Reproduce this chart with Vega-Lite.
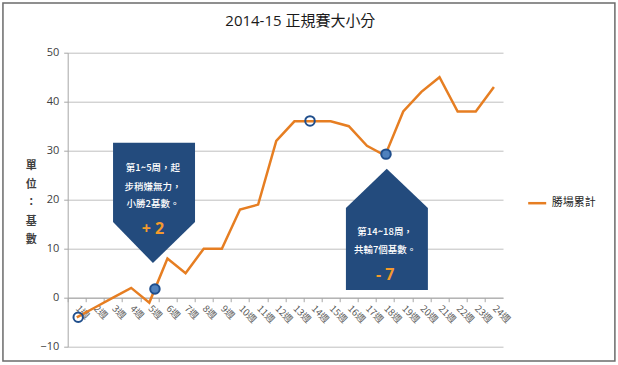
{
  "$schema": "https://vega.github.io/schema/vega-lite/v6.json",
  "width": 435.3,
  "height": 294,
  "autosize": "none",
  "padding": {"left": 67.7, "top": 52.7, "right": 114.7, "bottom": 18.3},
  "background": "white",
  "config": {
    "view": {"stroke": null},
    "font": "Noto Sans CJK TC",
    "axis": {"labelFont": "Open Sans", "titleFont": "Noto Sans CJK TC", "labelOverlap": false},
    "axisX": {"labelOverlap": false, "labelBound": false}
  },
  "title": {
    "text": "2014-15 正規賽大小分",
    "font": "Open Sans, Noto Sans CJK TC",
    "fontSize": 15,
    "fontWeight": "normal",
    "color": "#1a1a1a",
    "frame": "group",
    "anchor": "middle",
    "offset": -27,
    "dx": 15
  },
  "datasets": {
    "series": [
      {"week": 1, "wins": -4, "s": "勝場累計"},
      {"week": 2, "wins": -2, "s": "勝場累計"},
      {"week": 3, "wins": 0, "s": "勝場累計"},
      {"week": 4, "wins": 2, "s": "勝場累計"},
      {"week": 5, "wins": -1, "s": "勝場累計"},
      {"week": 6, "wins": 8, "s": "勝場累計"},
      {"week": 7, "wins": 5, "s": "勝場累計"},
      {"week": 8, "wins": 10, "s": "勝場累計"},
      {"week": 9, "wins": 10, "s": "勝場累計"},
      {"week": 10, "wins": 18, "s": "勝場累計"},
      {"week": 11, "wins": 19, "s": "勝場累計"},
      {"week": 12, "wins": 32, "s": "勝場累計"},
      {"week": 13, "wins": 36, "s": "勝場累計"},
      {"week": 14, "wins": 36, "s": "勝場累計"},
      {"week": 15, "wins": 36, "s": "勝場累計"},
      {"week": 16, "wins": 35, "s": "勝場累計"},
      {"week": 17, "wins": 31, "s": "勝場累計"},
      {"week": 18, "wins": 29, "s": "勝場累計"},
      {"week": 19, "wins": 38, "s": "勝場累計"},
      {"week": 20, "wins": 42, "s": "勝場累計"},
      {"week": 21, "wins": 45, "s": "勝場累計"},
      {"week": 22, "wins": 38, "s": "勝場累計"},
      {"week": 23, "wins": 38, "s": "勝場累計"},
      {"week": 24, "wins": 43, "s": "勝場累計"}
    ],
    "callouts": [
      {"g": "a", "x": 3.0, "top": 31.6, "bottom": 15.45},
      {"g": "a", "x": 5.2, "top": 31.6, "bottom": 7.08},
      {"g": "a", "x": 7.52, "top": 31.6, "bottom": 15.45},
      {"g": "b", "x": 15.84, "top": 18.3, "bottom": 1.57},
      {"g": "b", "x": 18.09, "top": 26.3, "bottom": 1.57},
      {"g": "b", "x": 20.36, "top": 18.3, "bottom": 1.57}
    ],
    "notes": [
      {"x": 5.2, "y": 26.5, "t": "第1~5周，起"},
      {"x": 5.2, "y": 22.6, "t": "步稍嫌無力，"},
      {"x": 5.2, "y": 19.1, "t": "小勝2基數。"},
      {"x": 18.0, "y": 13.4, "t": "第14~18周，"},
      {"x": 18.0, "y": 9.7, "t": "共輸7個基數。"}
    ],
    "scores": [
      {"x": 5.2, "y": 14.0, "t": "+ 2"},
      {"x": 18.0, "y": 4.6, "t": "- 7"}
    ],
    "marks": [
      {"x": 1.08, "y": -4.0, "f": "open"},
      {"x": 5.31, "y": 1.78, "f": "filled"},
      {"x": 13.86, "y": 36.08, "f": "open"},
      {"x": 18.05, "y": 29.3, "f": "filled"}
    ],
    "frame": [
      {"x": -3.07, "x2": 30.67, "y": 60.14, "y2": -12.92}
    ]
  },
  "layer": [
    {
      "data": {"name": "series"},
      "mark": {"type": "line", "strokeWidth": 2.5, "clip": false},
      "encoding": {
        "x": {
          "field": "week", "type": "quantitative",
          "scale": {"domain": [0.5, 24.5], "nice": false, "zero": false},
          "axis": {
            "values": [1,2,3,4,5,6,7,8,9,10,11,12,13,14,15,16,17,18,19,20,21,22,23,24],
            "tickCount": 50,
            "labelExpr": "datum.value + '週'",
            "labelOverlap": false,
            "labelBound": false,
            "title": null,
            "offset": -49,
            "grid": false,
            "domainColor": "#a6a6a6",
            "tickColor": "#a6a6a6",
            "tickSize": 4,
            "tickOffset": -9.07,
            "labelOffset": 9.07,
            "labelAngle": 45,
            "labelAlign": "left",
            "labelBaseline": "middle",
            "labelPadding": 5,
            "labelFontSize": 9.5,
            "labelColor": "#595959",
            "labelFont": "Noto Sans CJK TC"
          }
        },
        "y": {
          "field": "wins", "type": "quantitative",
          "scale": {"domain": [-10, 50], "nice": false, "zero": false},
          "axis": {
            "values": [-10, 0, 10, 20, 30, 40, 50],
            "grid": true,
            "gridColor": "#bfbfbf",
            "domainColor": "#a6a6a6",
            "tickColor": "#a6a6a6",
            "tickSize": 4,
            "labelPadding": 5,
            "labelFontSize": 11,
            "labelColor": "#404040",
            "labelFont": "Open Sans",
            "title": ["單", "位", "：", "基", "數"],
            "titleAngle": 0,
            "titleAlign": "center",
            "titleBaseline": "top",
            "titleX": -37,
            "titleY": 107,
            "titleLineHeight": 18.5,
            "titleFontSize": 11,
            "titleFontWeight": "bold",
            "titleColor": "#404040"
          }
        },
        "color": {
          "field": "s", "type": "nominal",
          "scale": {"range": ["#e67e22"]},
          "legend": {
            "title": null,
            "orient": "none",
            "legendX": 459,
            "legendY": 140,
            "symbolType": "stroke",
            "symbolSize": 324,
            "symbolStrokeWidth": 2.5,
            "labelFontSize": 11,
            "labelColor": "#262626",
            "labelFont": "Noto Sans CJK TC"
          }
        }
      }
    },
    {
      "data": {"name": "frame"},
      "mark": {"type": "rect", "fill": null, "stroke": "#6b6b6b", "strokeWidth": 1.5, "clip": false},
      "encoding": {
        "x": {"field": "x", "type": "quantitative", "scale": {"domain": [0.5, 24.5], "nice": false, "zero": false}},
        "x2": {"field": "x2"},
        "y": {"field": "y", "type": "quantitative", "scale": {"domain": [-10, 50], "nice": false, "zero": false}},
        "y2": {"field": "y2"}
      }
    },
    {
      "data": {"name": "callouts"},
      "mark": {"type": "area", "color": "#234b7d", "opacity": 1, "interpolate": "linear"},
      "encoding": {
        "x": {"field": "x", "type": "quantitative"},
        "y": {"field": "top", "type": "quantitative"},
        "y2": {"field": "bottom"},
        "detail": {"field": "g"}
      }
    },
    {
      "data": {"name": "notes"},
      "mark": {"type": "text", "align": "center", "baseline": "middle", "font": "Noto Sans CJK TC", "fontSize": 9.5, "color": "#ffffff", "fontWeight": 500},
      "encoding": {
        "x": {"field": "x", "type": "quantitative"},
        "y": {"field": "y", "type": "quantitative"},
        "text": {"field": "t"}
      }
    },
    {
      "data": {"name": "scores"},
      "mark": {"type": "text", "align": "center", "baseline": "middle", "font": "Open Sans", "fontSize": 16, "fontWeight": "bold", "color": "#f39a2c"},
      "encoding": {
        "x": {"field": "x", "type": "quantitative"},
        "y": {"field": "y", "type": "quantitative"},
        "text": {"field": "t"}
      }
    },
    {
      "data": {"name": "marks"},
      "mark": {"type": "point", "shape": "circle", "size": 90, "strokeWidth": 2, "stroke": "#1f4e8c", "opacity": 1, "clip": false},
      "encoding": {
        "x": {"field": "x", "type": "quantitative"},
        "y": {"field": "y", "type": "quantitative"},
        "fill": {"condition": {"test": "datum.f === 'filled'", "value": "#4f81bd"}, "value": "#ffffff"},
        "fillOpacity": {"condition": {"test": "datum.f === 'filled'", "value": 1}, "value": 0}
      }
    }
  ]
}
